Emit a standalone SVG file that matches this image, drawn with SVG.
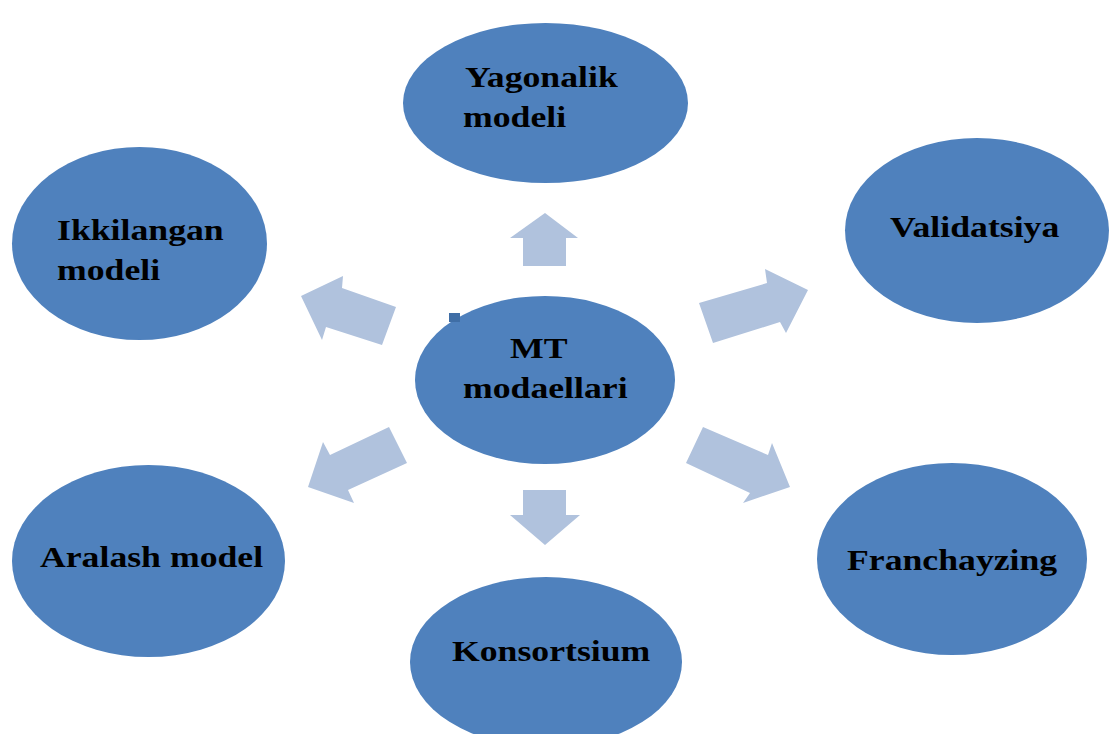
<svg xmlns="http://www.w3.org/2000/svg" width="1109" height="734" viewBox="0 0 1109 734">
<style>
.node ellipse{fill:#4F81BD;}
.node text{font-family:"Liberation Serif","Times New Roman",serif;font-weight:bold;font-size:30px;fill:#000;}
.arrow{fill:#B0C2DD;}
</style>
<rect width="1109" height="734" fill="#fff"/>
<g id="connectors">
<polygon class="arrow" points="545,213 578,238 566,238 566,266 523,266 523,238 510,238"/>
<polygon class="arrow" points="545,545 580,515 566,515 566,490 523,490 523,515 510,515"/>
<polygon class="arrow" points="301,296 343,276 342,288 396,307 382,345 326,327 322,340"/>
<polygon class="arrow" points="808,290 765,269 767,283 699,303 713,343 780,322 786,333"/>
<polygon class="arrow" points="308,487 323,442 330,455 389,427 407,463 348,490 354,503"/>
<polygon class="arrow" points="790,487 772,443 768,455 703,427 686,463 750,493 743,503"/>
</g>
<g id="node-center" class="node">
<ellipse cx="545" cy="380" rx="130" ry="84"/>
<rect x="449" y="313" width="11" height="9" fill="#3F6EA6"/>
<text transform="translate(510,358) scale(1.19,1)">MT</text>
<text transform="translate(463,398) scale(1.19,1)">modaellari</text>
</g>
<g id="node-yagonalik" class="node">
<ellipse cx="545.5" cy="103" rx="142.5" ry="80"/>
<text transform="translate(465,87) scale(1.19,1)">Yagonalik</text>
<text transform="translate(463,127) scale(1.19,1)">modeli</text>
</g>
<g id="node-ikkilangan" class="node">
<ellipse cx="139.5" cy="243.5" rx="127.5" ry="96.5"/>
<text transform="translate(57,240) scale(1.19,1)">Ikkilangan</text>
<text transform="translate(57,280) scale(1.19,1)">modeli</text>
</g>
<g id="node-validatsiya" class="node">
<ellipse cx="977" cy="230.5" rx="132" ry="92.5"/>
<text transform="translate(890,237) scale(1.19,1)">Validatsiya</text>
</g>
<g id="node-aralash" class="node">
<ellipse cx="148.5" cy="561" rx="136.5" ry="96"/>
<text transform="translate(40,567) scale(1.19,1)">Aralash model</text>
</g>
<g id="node-franchayzing" class="node">
<ellipse cx="952" cy="559" rx="135" ry="96"/>
<text transform="translate(847,570) scale(1.19,1)">Franchayzing</text>
</g>
<g id="node-konsortsium" class="node">
<ellipse cx="546" cy="662" rx="136" ry="85"/>
<text transform="translate(452,661) scale(1.19,1)">Konsortsium</text>
</g>
</svg>
